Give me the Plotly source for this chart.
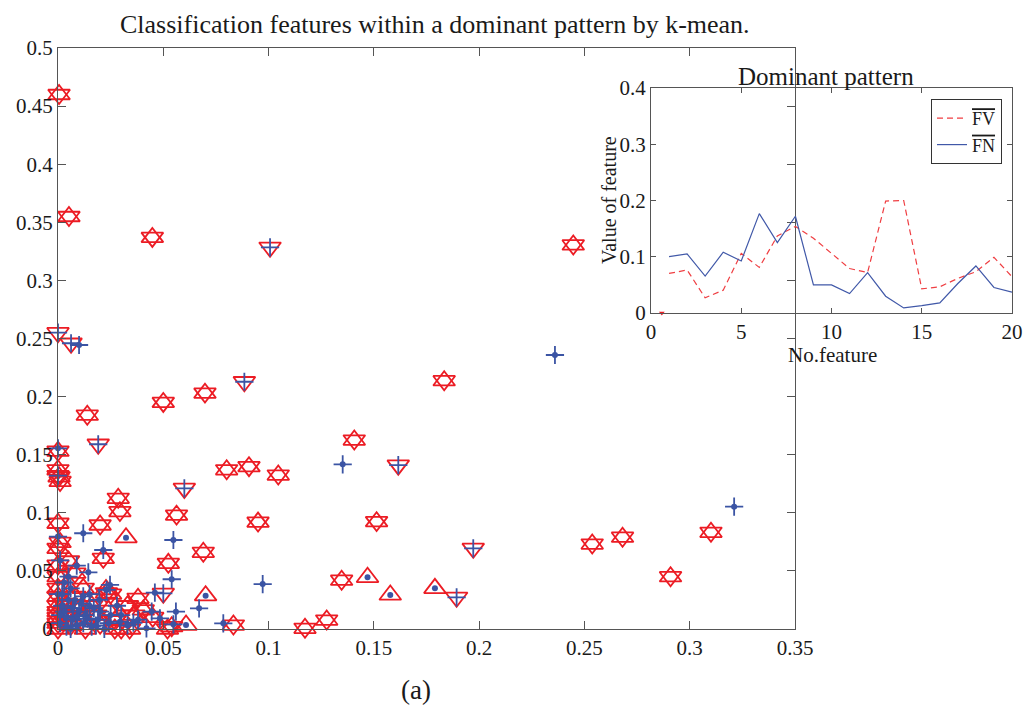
import plotly.graph_objects as go

# ---------------- data ----------------
# red "star of David" points (both red classes: up + down triangles)
star_x = [0.0005, 0.0052, 0.0448, 0.2447, 0.0139, 0.050, 0.000, 0.000, 0.0005, 0.001,
          0.0698, 0.1834, 0.1407, 0.0801, 0.0907, 0.1046, 0.095, 0.1513, 0.0563, 0.0286,
          0.0294, 0.020, 0.069, 0.0524, 0.0215, 0.000, 0.000, 0.001, 0.000, 0.005,
          0.000, 0.008, 0.038, 0.0833, 0.1173, 0.1276, 0.1347, 0.2537, 0.2681, 0.2909,
          0.3101, 0.000, 0.000, 0.000, 0.000, 0.000, 0.000, 0.000, 0.003, 0.004,
          0.006, 0.009, 0.011, 0.013, 0.016, 0.018, 0.020, 0.024, 0.027, 0.030,
          0.033, 0.036, 0.0405, 0.045, 0.052, 0.054, 0.025, 0.012, 0.008, 0.034,
          0.027, 0.023]
star_y = [0.460, 0.355, 0.337, 0.3305, 0.184, 0.195, 0.153, 0.137, 0.131, 0.127,
          0.203, 0.2137, 0.1626, 0.137, 0.1397, 0.1325, 0.092, 0.0924, 0.098, 0.1125,
          0.101, 0.0895, 0.066, 0.0565, 0.0608, 0.091, 0.0694, 0.0745, 0.055, 0.0585,
          0.045, 0.048, 0.0264, 0.0034, 0.0006, 0.0077, 0.042, 0.0731, 0.079, 0.045,
          0.0832, 0.035, 0.028, 0.020, 0.015, 0.010, 0.005, 0.000, 0.022, 0.012,
          0.003, 0.018, 0.008, 0.000, 0.020, 0.012, 0.004, 0.016, 0.007, 0.000,
          0.020, 0.012, 0.0164, 0.010, 0.000, 0.002, 0.030, 0.035, 0.028, 0.000,
          0.000, 0.031]

# red up-triangle with blue dot
updot_x = [0.0701, 0.0323, 0.147, 0.1578, 0.179, 0.0608, 0.0228]
updot_y = [0.0287, 0.0786, 0.0445, 0.0293, 0.035, 0.0034, 0.034]

# red down-triangle with blue plus
downplus_x = [0.1007, 0.000, 0.0062, 0.0191, 0.0885, 0.1616, 0.060, 0.1972, 0.1893, 0.050, 0.000]
downplus_y = [0.3285, 0.255, 0.2459, 0.159, 0.2128, 0.141, 0.121, 0.0694, 0.0273, 0.0307, 0.132]

# blue plus with blue dot
plusdot_x = [0.236, 0.3211, 0.1352, 0.0972, 0.0548, 0.054, 0.067, 0.0785, 0.056, 0.0548,
             0.012, 0.0215, 0.0089, 0.0144, 0.000, 0.000, 0.001, 0.0247, 0.0196, 0.046,
             0.0294, 0.0358, 0.0445, 0.0484, 0.042, 0.0231, 0.010, 0.000, 0.002, 0.004,
             0.006, 0.008, 0.010, 0.012, 0.015, 0.017, 0.019, 0.022, 0.025, 0.028,
             0.003, 0.006, 0.013, 0.016, 0.001, 0.003, 0.005, 0.007, 0.009, 0.011,
             0.014, 0.018, 0.020, 0.024, 0.002, 0.007, 0.012, 0.005, 0.030, 0.033,
             0.038, 0.001, 0.004, 0.009, 0.015]
plusdot_y = [0.2358, 0.1053, 0.1417, 0.0387, 0.0766, 0.0428, 0.0178, 0.0049, 0.0149, 0.004,
             0.0824, 0.068, 0.0545, 0.0488, 0.1555, 0.0795, 0.059, 0.0379, 0.025, 0.0313,
             0.0063, 0.0054, 0.015, 0.0092, 0.0006, 0.0336, 0.2444, 0.030, 0.020, 0.010,
             0.000, 0.025, 0.015, 0.005, 0.030, 0.018, 0.008, 0.000, 0.012, 0.020,
             0.040, 0.035, 0.012, 0.002, 0.005, 0.015, 0.025, 0.008, 0.003, 0.022,
             0.009, 0.003, 0.015, 0.005, 0.030, 0.018, 0.028, 0.045, 0.012, 0.003,
             0.008, 0.012, 0.002, 0.011, 0.020]

# inset: dominant pattern
feature_no = list(range(1, 21))
fv_mean = [0.0704, 0.0764, 0.027, 0.0406, 0.106, 0.081, 0.137, 0.154, 0.133, 0.106,
           0.079, 0.072, 0.199, 0.200, 0.043, 0.0466, 0.0615, 0.0734, 0.099, 0.0645]
fn_mean = [0.1003, 0.105, 0.0657, 0.108, 0.0925, 0.1767, 0.125, 0.172, 0.050, 0.050,
           0.0346, 0.0716, 0.0299, 0.009, 0.013, 0.0179, 0.0525, 0.0836, 0.0454, 0.037]
inset_mark_x = [0.6]
inset_mark_y = [0.0]

main_xticks = [0, 0.05, 0.1, 0.15, 0.2, 0.25, 0.3, 0.35]
main_xticktext = ["0", "0.05", "0.1", "0.15", "0.2", "0.25", "0.3", "0.35"]
main_yticks = [0, 0.05, 0.1, 0.15, 0.2, 0.25, 0.3, 0.35, 0.4, 0.45, 0.5]
main_yticktext = ["0", "0.05", "0.1", "0.15", "0.2", "0.25", "0.3", "0.35", "0.4", "0.45", "0.5"]
inset_xticks = [0, 5, 10, 15, 20]
inset_xticktext = ["0", "5", "10", "15", "20"]
inset_yticks = [0, 0.1, 0.2, 0.3, 0.4]
inset_yticktext = ["0", "0.1", "0.2", "0.3", "0.4"]

# ---------------- styles ----------------
RED = '#ec1c24'
BLUE = '#3b54a4'
FONT = 'Liberation Serif'
TXT = '#1a1a1a'
AX = '#555555'
TRI = 19
PLUS = 13
DOT = 6

fig = go.Figure()


def add_marks(x, y, symbol, color, size, lw, filled=False):
    if filled:
        marker = dict(symbol=symbol, size=size, color=color, line=dict(width=0))
    else:
        marker = dict(symbol=symbol, size=size, color=color,
                      line=dict(color=color, width=lw))
    fig.add_trace(go.Scatter(x=x, y=y, mode='markers', marker=marker,
                             showlegend=False, cliponaxis=False, hoverinfo='skip',
                             xaxis='x', yaxis='y'))


# red classes
add_marks(star_x, star_y, 'triangle-up-open', RED, TRI, 1.8)
add_marks(star_x, star_y, 'triangle-down-open', RED, TRI, 1.8)
add_marks(updot_x, updot_y, 'triangle-up-open', RED, TRI, 1.8)
add_marks(downplus_x, downplus_y, 'triangle-down-open', RED, TRI, 1.8)
# blue classes
add_marks(downplus_x, downplus_y, 'cross-thin', BLUE, PLUS, 1.8)
add_marks(plusdot_x, plusdot_y, 'cross-thin', BLUE, PLUS, 1.8)
add_marks(plusdot_x, plusdot_y, 'circle', BLUE, DOT, 0, filled=True)
add_marks(updot_x, updot_y, 'circle', BLUE, DOT, 0, filled=True)

# inset lines
fig.add_trace(go.Scatter(x=feature_no, y=fv_mean, mode='lines',
                         line=dict(color='#ef3e42', width=1.2, dash='6px,4px'),
                         name='<span style="text-decoration:overline">FV</span>',
                         xaxis='x2', yaxis='y2', hoverinfo='skip'))
fig.add_trace(go.Scatter(x=feature_no, y=fn_mean, mode='lines',
                         line=dict(color='#4058a8', width=1.2),
                         name='<span style="text-decoration:overline">FN</span>',
                         xaxis='x2', yaxis='y2', hoverinfo='skip'))
fig.add_trace(go.Scatter(x=inset_mark_x, y=inset_mark_y, mode='markers',
                         marker=dict(symbol='triangle-down', size=5, color=RED),
                         showlegend=False, cliponaxis=False, hoverinfo='skip',
                         xaxis='x2', yaxis='y2'))

W, H = 1024, 705


def px(xp):
    return xp / W


def py(yp):
    return 1 - yp / H


axis_common = dict(showgrid=False, zeroline=False, showline=True, linecolor=AX,
                   linewidth=1, mirror='ticks', ticks='inside', tickcolor=AX,
                   automargin=False,
                   tickfont=dict(family=FONT, size=21, color=TXT))


def note(text, x, y, size, angle=0):
    return dict(text=text, x=px(x), y=py(y), xref='paper', yref='paper',
                xanchor='center', yanchor='middle', showarrow=False,
                textangle=angle, font=dict(family=FONT, size=size, color=TXT))


fig.update_layout(
    width=W, height=H,
    margin=dict(l=0, r=0, t=0, b=0, autoexpand=False),
    paper_bgcolor='white', plot_bgcolor='rgba(0,0,0,0)',
    xaxis=dict(domain=[px(58), px(795)], range=[0, 0.35], tickvals=main_xticks,
               ticktext=main_xticktext, ticklen=8, anchor='y', **axis_common),
    yaxis=dict(domain=[py(629), py(48)], range=[0, 0.5], tickvals=main_yticks,
               ticktext=main_yticktext, ticklen=8, anchor='x', **axis_common),
    xaxis2=dict(domain=[px(651), px(1012)], range=[0, 20], tickvals=inset_xticks,
                ticktext=inset_xticktext, ticklen=5, anchor='y2', **axis_common),
    yaxis2=dict(domain=[py(313), py(88)], range=[0, 0.4], tickvals=inset_yticks,
                ticktext=inset_yticktext, ticklen=5, anchor='x2', **axis_common),
    showlegend=True,
    legend=dict(x=px(1002), y=py(99), xanchor='right', yanchor='top',
                bgcolor='white', bordercolor='#333333', borderwidth=1,
                font=dict(family=FONT, size=18, color=TXT), itemwidth=30,
                tracegroupgap=0),
    annotations=[
        note('Classification features within a dominant pattern by k-mean.', 435, 24, 26),
        note('(a)', 416, 690, 27),
        note('Dominant pattern', 826, 76, 25),
        note('Value of feature', 609, 200, 20, -90),
        note('No.feature', 832, 355, 21),
    ],
)

fig.write_html('out.html',
               post_script="document.body.style.margin='0';"
                           "document.body.style.overflow='hidden';")
